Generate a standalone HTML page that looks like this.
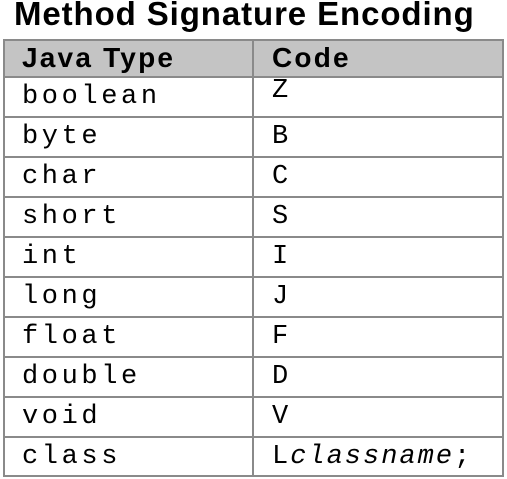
<!DOCTYPE html>
<html><head><style>
body{margin:0;width:507px;height:479px;background:#fff;position:relative;overflow:hidden;font-family:"Liberation Sans",Arial,sans-serif}
.t{position:absolute;left:14px;top:-5px;font-size:33px;font-weight:bold;color:#000;letter-spacing:0.9px}
.hd{position:absolute;left:3px;top:40px;width:500px;height:37px;background:#c4c4c4}
.h{position:absolute;font-weight:bold;font-size:28px;top:39px;line-height:37px;letter-spacing:2.2px}
.l{position:absolute;background:#8a8a8a}
.c{position:absolute;font-family:"Liberation Mono",monospace;font-size:27px;letter-spacing:3.6px;color:#000}
</style></head><body>
<div class="t">Method Signature Encoding</div>
<div class="hd"></div>
<div class="h" style="left:22px">Java Type</div>
<div class="h" style="left:272px">Code</div>
<div class="l" style="left:3px;top:39px;width:501px;height:2px"></div>
<div class="l" style="left:3px;top:39px;width:2px;height:438px"></div>
<div class="l" style="left:502px;top:39px;width:2px;height:438px"></div>
<div class="l" style="left:252px;top:39px;width:2px;height:438px"></div>
<div class="l" style="left:3px;top:76px;width:501px;height:2px"></div>
<div class="l" style="left:3px;top:116px;width:501px;height:2px"></div>
<div class="l" style="left:3px;top:156px;width:501px;height:2px"></div>
<div class="l" style="left:3px;top:196px;width:501px;height:2px"></div>
<div class="l" style="left:3px;top:236px;width:501px;height:2px"></div>
<div class="l" style="left:3px;top:276px;width:501px;height:2px"></div>
<div class="l" style="left:3px;top:316px;width:501px;height:2px"></div>
<div class="l" style="left:3px;top:356px;width:501px;height:2px"></div>
<div class="l" style="left:3px;top:396px;width:501px;height:2px"></div>
<div class="l" style="left:3px;top:436px;width:501px;height:2px"></div>
<div class="l" style="left:3px;top:475px;width:501px;height:2px"></div>
<div class="c" style="left:22px;top:82px">boolean</div><div class="c" style="left:272px;top:76px">Z</div>
<div class="c" style="left:22px;top:122px">byte</div><div class="c" style="left:272px;top:122px">B</div>
<div class="c" style="left:22px;top:162px">char</div><div class="c" style="left:272px;top:162px">C</div>
<div class="c" style="left:22px;top:202px">short</div><div class="c" style="left:272px;top:202px">S</div>
<div class="c" style="left:22px;top:242px">int</div><div class="c" style="left:272px;top:242px">I</div>
<div class="c" style="left:22px;top:282px">long</div><div class="c" style="left:272px;top:282px">J</div>
<div class="c" style="left:22px;top:322px">float</div><div class="c" style="left:272px;top:322px">F</div>
<div class="c" style="left:22px;top:362px">double</div><div class="c" style="left:272px;top:362px">D</div>
<div class="c" style="left:22px;top:402px">void</div><div class="c" style="left:272px;top:402px">V</div>
<div class="c" style="left:22px;top:442px">class</div><div class="c" style="left:272px;top:442px;letter-spacing:2px">L<i>classname</i>;</div>
</body></html>
